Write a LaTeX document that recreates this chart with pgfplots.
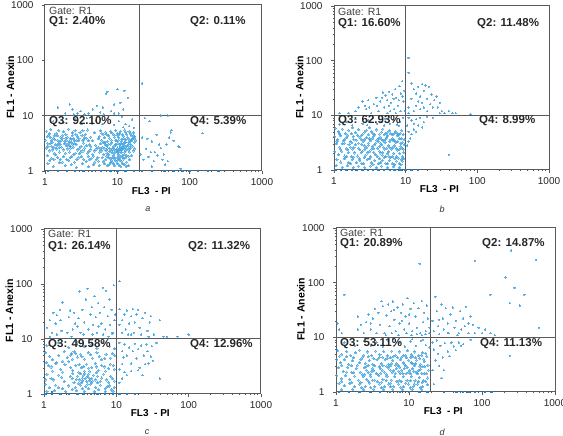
\documentclass[border=0pt]{standalone}
\usepackage{fontspec}
\setmainfont{Liberation Sans}
\usepackage{pgfplots}
\pgfplotsset{compat=1.18}
\definecolor{dot}{HTML}{3FA2E0}
\definecolor{dotd}{HTML}{1F7FC8}
\definecolor{frm}{HTML}{5A5A5A}
\pgfplotsset{
 scale only axis,
 xmin=1,xmax=1000,ymin=1,ymax=1000,
 xtick={1,10,100,1000}, ytick={1,10,100,1000},
 xticklabels={1,10,100,1000}, yticklabels={1,10,100,1000},
 minor xtick={2,3,4,5,6,7,8,9,20,30,40,50,60,70,80,90,200,300,400,500,600,700,800,900},
 minor ytick={2,3,4,5,6,7,8,9,20,30,40,50,60,70,80,90,200,300,400,500,600,700,800,900},
 tick align=outside, tick pos=left, major tick length=3pt, minor tick length=1.5pt,
 tick style={color=frm,line width=.5pt},
 axis line style={color=frm,line width=1pt},
 tick label style={font=\fontsize{10}{10}\selectfont,text=black!85},
 yticklabel style={xshift=-5pt}, xticklabel style={yshift=-1pt},
 xlabel style={font=\bfseries\fontsize{10}{10}\selectfont,at={(axis description cs:0.49,-0.118)},anchor=center},
 ylabel style={font=\bfseries\fontsize{10.5}{10.5}\selectfont,at={(axis description cs:-0.16,0.505)},anchor=center},
 ptsa/.style={only marks,color=dot,mark=*,mark size=1.05pt,opacity=.55,line width=0pt},
 ptsb/.style={only marks,color=dot,mark=*,mark size=0.7pt,opacity=.6,line width=0pt},
 ptsc/.style={only marks,color=dotd,mark=*,mark size=0.7pt,line width=0pt},
 qline/.style={no marks,color=frm,line width=1pt},
}
\newcommand{\gatelab}[3]{\node[anchor=west,inner sep=0pt,font=\fontsize{10.5}{10.5}\selectfont,text=black!75] at (#1pt,436pt-#2pt) {#3};}
\newcommand{\quadlab}[3]{\node[anchor=west,inner sep=0pt,font=\bfseries\fontsize{11.5}{11.5}\selectfont,text=black!85] at (#1pt,436pt-#2pt) {#3};}
\newcommand{\panlab}[3]{\node[inner sep=0pt,font=\itshape\fontsize{9}{9}\selectfont,text=black!80] at (#1pt,436pt-#2pt) {#3};}
\begin{document}
\begin{tikzpicture}
\useasboundingbox (0,0) rectangle (563pt,436pt);
% ---------- a
\begin{loglogaxis}[at={(45pt,265pt)},anchor=south west,width=217pt,height=166pt,xlabel={FL3\ \ - PI},ylabel={FL1\ - Anexin}]
\addplot[ptsa] coordinates {
(1.05,5.2)(1.12,4.4)(1.2,5.6)(1.3,3.9)(1.42,4.8)(1.55,5.4)(1.66,4.1)(1.8,5.1)(1.95,4.5)(2.1,5.7)(2.25,3.8)(2.4,4.9)(2.6,5.3)(2.8,4.2)(3.05,5.0)(3.3,3.6)(3.6,4.6)(3.9,5.5)(4.3,4.1)(4.8,4.9)
(1.02,3.6)(1.1,3.1)(1.18,4.0)(1.26,3.3)(1.37,3.7)(1.48,2.9)(1.6,3.4)(1.72,3.8)(1.85,3.1)(2.0,3.6)(2.15,2.9)(2.3,3.3)(2.5,3.9)(2.7,3.0)(2.9,3.5)(3.15,2.8)(3.4,3.2)(3.75,3.9)(4.1,3.0)(4.5,3.5)(5.0,2.9)(5.5,3.8)
(1.04,2.6)(1.15,2.3)(1.24,2.8)(1.34,2.1)(1.45,2.5)(1.58,2.2)(1.7,2.7)(1.9,2.1)(2.05,2.5)(2.2,2.2)(2.45,2.7)(2.65,2.1)(2.85,2.4)(3.1,2.2)(3.5,2.6)(3.85,2.1)(4.2,2.4)(4.6,2.0)(5.2,2.5)(5.7,2.2)
(1.08,1.9)(1.22,1.7)(1.4,1.95)(1.62,1.6)(1.82,1.8)(2.12,1.55)(2.35,1.85)(2.75,1.6)(3.2,1.8)(3.7,1.5)(4.4,1.7)(4.9,1.45)(5.4,1.75)
(1.1,1.35)(1.3,1.2)(1.6,1.4)(1.9,1.25)(2.3,1.3)(2.7,1.15)(3.3,1.35)(4.0,1.2)(4.7,1.3)(5.6,1.25)
(1.15,4.7)(1.35,4.3)(1.5,3.6)(1.75,4.4)(2.02,4.1)(2.18,3.4)(2.38,4.4)(2.55,3.5)(2.95,3.9)(3.25,4.4)(1.28,2.4)(1.52,3.1)(1.78,2.4)(1.98,2.85)(2.28,2.6)(2.58,3.1)(3.0,2.6)(3.45,3.7)(1.07,4.2)(1.22,3.5)(1.38,3.0)(1.63,3.0)(1.88,3.4)(2.08,3.1)(2.33,3.75)(2.75,3.6)(3.55,4.0)(4.0,3.5)
(1.47,4.3)(1.68,3.6)(1.92,3.9)(1.1,2.8)(1.33,2.7)(2.42,3.05)(1.58,2.65)(2.22,2.75)(1.18,3.15)(2.68,4.6)(3.35,5.3)
(1.16,1.55)(1.33,1.62)(1.5,1.75)(1.72,1.45)(2,1.6)(2.22,1.75)(2.55,1.45)(2.95,1.72)(3.45,1.6)(3.95,1.85)(4.15,1.6)(4.65,1.85)(5.1,1.6)(5.5,1.5)(3.0,2.05)(3.35,2.3)(2.5,2.0)(4.05,2.25)(4.8,2.3)(5.45,2.7)(4.3,2.8)(3.75,2.85)
(5.9,5.3)(6.4,4.6)(6.9,5.0)(7.5,4.3)(8.1,5.2)(8.8,4.6)(9.5,5.4)(10.2,4.4)(11.0,5.2)(11.8,4.5)(12.6,5.5)(13.5,4.6)(14.5,5.2)(15.5,4.4)(16.6,4.9)(17.5,4.2)
(5.6,4.2)(6.1,3.6)(6.6,4.0)(7.2,3.4)(7.8,3.9)(8.4,3.3)(9.1,4.1)(9.8,3.5)(10.5,4.0)(11.3,3.4)(12.1,3.9)(13.0,3.3)(14.0,4.0)(15.0,3.4)(16.0,3.8)(17.2,3.3)(18.0,3.6)
(5.8,3.1)(6.3,2.7)(6.8,3.0)(7.4,2.6)(8.0,3.05)(8.6,2.5)(9.3,2.95)(10.0,2.6)(10.8,3.0)(11.6,2.5)(12.4,2.9)(13.3,2.6)(14.2,3.0)(15.3,2.6)(16.3,2.8)(17.5,2.5)
(6.0,2.3)(6.5,2.0)(7.0,2.35)(7.6,1.95)(8.2,2.3)(8.9,1.9)(9.6,2.25)(10.3,1.95)(11.1,2.3)(11.9,1.9)(12.7,2.2)(13.6,1.9)(14.6,2.2)(15.7,1.9)
(6.2,1.75)(6.9,1.6)(7.5,1.75)(8.3,1.55)(9.0,1.7)(9.8,1.5)(10.6,1.7)(11.4,1.5)(12.3,1.65)(13.4,1.45)(14.8,1.6)
(6.6,1.35)(7.3,1.25)(8.1,1.4)(9.1,1.25)(10.1,1.35)(11.2,1.2)(12.6,1.3)(14.2,1.25)
(9.4,3.6)(10.2,3.2)(11.0,2.8)(9.7,2.4)(10.5,2.2)(11.3,2.15)(12.2,2.55)(8.8,2.75)(9.2,2.1)(8.5,2.15)(7.9,2.55)(10.9,1.85)(12.0,3.1)(13.0,2.35)(11.6,3.7)(10.0,4.7)(12.9,3.65)(14.5,3.65)(7.1,2.85)(8.3,3.6)(6.7,3.3)(9.9,1.75)(7.2,2.1)(8.7,1.75)(15.4,3.0)(16.5,4.3)(13.8,2.85)(11.5,2.4)(10.6,2.45)(12.5,2.0)
(6.05,4.8)(7.15,4.6)(8.4,4.9)(9.15,4.4)(10.7,4.7)(12.2,4.25)(13.1,5.0)(15,4.8)(6.45,3.25)(7.55,3.05)(9.55,3.0)(10.35,3.6)(11.45,3.1)(12.75,3.3)(14.4,3.3)(15.7,3.55)(17,3.9)(5.85,2.55)(6.75,2.5)(7.85,2.25)(9.05,2.45)(10.15,2.2)(10.85,2.6)(11.75,2.75)(12.85,2.7)(14.1,2.4)(14.9,2.7)(16.9,2.3)(6.35,1.5)(7.05,1.85)(7.95,1.7)(8.55,1.45)(9.35,1.55)(10.25,1.6)(11,1.55)(11.85,1.75)(13.1,1.75)(14.3,1.85)(7.7,1.3)(8.9,1.35)(10.6,1.25)(11.8,1.35)(13.3,1.2)
};
\addplot[ptsb] coordinates {
(1.5,14)(2.2,16)(2.4,13)(2.8,11)(1.9,11)(2.5,10.5)(3.1,12)(4,11)(4.6,13)(5.2,15)(6.3,14)(7,25)(7.3,27)(8.2,12)(9,16)(10,30)(11,17)(12,13)(14,21)(12.5,28)(10.5,11)(9,11)(5.8,11.5)(3.5,10.5)(6.5,10.5)
(1.3,8)(1.8,7.5)(2.6,8.5)(3.2,7)(3.8,9)(4.5,7.2)(5.1,8.1)(6.2,7)(7.5,9)(9,6.8)(10.5,8)(11.5,9.5)(13,7)(14.5,6.5)(16,8.5)(12,6.2)(17,6)
(22,38)(24,9)(28,8)(35,4.5)(38,3)(25,2.5)(27,1.8)(30,3.4)(33,2.2)(40,2.6)(42,1.6)(46,1.3)(50,1.5)(55,5)(52,4)(60,3.5)(70,2.8)(72,2.7)(150,4.8)(48,3)(32,1.5)(23,1.6)(26,3.8)(29,2.2)(36,1.9)(44,2)(50,10)(22,4)(21,2)(30,1.2)(75,1.1)(56,5.5)(40,10)
};
\addplot[ptsc] coordinates {(1.1,1)(1.5,1)(2,1)(2.6,1)(3.4,1)(4.5,1)(6,1)(8,1)(10,1)(13,1)(17,1)(22,1)(30,1)(45,1)(60,1)(80,1)(100,1)(130,1)(180,1)(250,1)};
\addplot[qline] coordinates {(20,1)(20,1000)};
\addplot[qline] coordinates {(1,10)(1000,10)};
\end{loglogaxis}
% ---------- b
\begin{loglogaxis}[at={(334pt,266pt)},anchor=south west,width=215pt,height=164pt,xlabel={FL3\ \ - PI},ylabel={FL1\ - Anexin}]
\addplot[ptsa] coordinates {
(1.05,5.8)(1.15,5.0)(1.3,5.6)(1.45,4.6)(1.6,5.3)(1.8,5.9)(2,4.8)(2.2,5.5)(2.5,4.5)(2.8,5.2)(3.1,5.9)(3.5,4.7)(3.9,5.4)(4.3,4.5)(4.8,5.6)(5.3,4.6)(5.9,5.2)(6.5,4.4)(7.2,5.0)(8,4.4)(8.8,5.3)
(1.02,4.1)(1.12,3.6)(1.24,4.2)(1.36,3.4)(1.5,3.9)(1.68,3.3)(1.85,4.1)(2.05,3.5)(2.3,4.0)(2.55,3.3)(2.85,3.9)(3.2,3.4)(3.55,4.1)(3.95,3.5)(4.4,4.0)(4.9,3.4)(5.4,3.9)(6,3.3)(6.6,3.8)(7.3,3.2)(8.1,3.7)(9,3.2)
(1.08,3.0)(1.2,2.6)(1.32,3.0)(1.48,2.5)(1.62,2.9)(1.8,2.4)(2,2.9)(2.2,2.5)(2.45,2.95)(2.7,2.4)(3,2.85)(3.35,2.4)(3.7,2.9)(4.1,2.5)(4.6,2.9)(5.1,2.4)(5.7,2.8)(6.3,2.4)(7,2.8)(7.7,2.3)(8.5,2.7)(9.3,2.4)
(1.03,2.15)(1.16,1.9)(1.28,2.2)(1.42,1.8)(1.58,2.1)(1.75,1.75)(1.95,2.05)(2.15,1.8)(2.4,2.1)(2.65,1.7)(2.95,2.05)(3.25,1.75)(3.6,2.1)(4,1.75)(4.45,2.05)(5,1.7)(5.5,2.0)(6.1,1.7)(6.8,2.0)(7.5,1.75)(8.3,2.0)(9.1,1.75)
(1.1,1.55)(1.25,1.4)(1.4,1.6)(1.6,1.35)(1.8,1.55)(2.05,1.35)(2.3,1.5)(2.6,1.3)(2.9,1.55)(3.3,1.35)(3.7,1.5)(4.2,1.3)(4.7,1.5)(5.3,1.3)(5.9,1.5)(6.6,1.3)(7.4,1.45)(8.2,1.3)(9,1.45)
(1.07,1.2)(1.3,1.12)(1.55,1.2)(1.85,1.1)(2.2,1.18)(2.7,1.1)(3.2,1.18)(3.9,1.1)(4.6,1.18)(5.6,1.1)(6.8,1.15)(8.2,1.1)
(2.2,3.1)(2.7,3.6)(3.0,3.1)(3.4,3.7)(3.8,3.1)(4.2,3.7)(4.5,3.1)(5,4.4)(5.2,3.6)(5.6,4.2)(6.2,4.6)(6.8,3.4)(3.6,2.5)(4.3,2.2)(2.5,2.2)(1.7,2.6)(1.4,3.1)(1.9,3.6)(2.4,4.3)(3.0,4.4)(3.3,5.0)(7.8,4.2)(8.6,3.0)(9.5,3.6)(9.6,2.9)(9.4,2.1)(1.55,4.3)(2.65,2.75)(3.15,2.2)(4.8,2.1)(5.8,2.15)
(1.2,4.6)(1.75,4.6)(2.15,4.3)(2.65,4.9)(3.7,4.4)(4.6,4.9)(5.6,4.9)(6.9,4.6)(7.6,4.7)(8.4,4.7)(9.2,4.5)(1.1,3.3)(1.42,3.6)(1.78,3.15)(2.45,3.55)(3.1,3.7)(4.15,3.3)(4.65,3.6)(5.15,3.2)(6.25,3.55)(7,3.5)(7.7,3.3)(8.8,3.7)(1.25,2.35)(1.55,2.35)(1.9,2.6)(2.3,2.35)(2.85,2.55)(3.4,2.7)(4.35,2.7)(4.9,2.6)(5.45,2.5)(6,2.6)(6.65,2.55)(7.35,2.5)(8.1,2.4)(8.9,2.5)(1.5,1.75)(1.88,1.72)(2.25,1.6)(2.75,1.85)(3.1,1.6)(3.8,1.9)(4.3,1.6)(4.75,1.85)(5.25,1.75)(5.85,1.8)(6.5,1.75)(7.1,1.6)(7.9,1.65)(8.7,1.55)(9.4,1.6)(1.7,1.3)(2.45,1.32)(3.5,1.28)(4.45,1.35)(5.6,1.3)(7,1.25)(8.6,1.25)
};
\addplot[ptsb] coordinates {
(1.2,11)(1.6,11)(2,12)(2.2,14)(2.5,18)(2.8,13)(3,19)(3.3,11)(3.6,16)(3.9,21)(4.2,12)(4.4,18)(4.8,26)(5,14)(5.2,23)(5.6,11)(5.9,27)(6.2,17)(6.5,24)(6.9,13)(7.1,30)(7.4,21)(7.8,15)(8.2,34)(8.5,12)(8.6,25)(8.9,42)(9.3,18)(9.6,28)(9.7,12)(5.5,19)(3.1,14)(4,15)(6.1,12)(7.3,11)(8,19)(4.7,21)(5.8,15)(6.8,20)(9,22)(2.7,15)
(1.5,7.5)(2,8.5)(2.5,7)(3,8)(3.5,9)(4,7)(4.6,7.6)(5.2,8.6)(6,7)(6.8,8.2)(7.6,6.8)(8.4,7.6)(9.2,9)(1.2,6.8)(1.8,6.6)(2.9,6.6)(5,6.5)(8,6.4)
(11,112)(11,60)(12,38)(13,30)(14,25)(15,33)(16,22)(17,37)(18,28)(19,35)(20,20)(21,33)(23,24)(25,19)(28,14)(30,17)(32,12)(35,11)(40,12)(45,11)(50,11)(27,22)(22,16)(18,14)(15,18)(12,20)(11,14)(14,15)(16,13)(20,12)(24,14)(13,12)(11,11)(17,17)(30,11)(80,10.5)
(11,9)(12,8)(13,7)(14,8.5)(15,6.5)(16,9)(18,7.5)(20,9.5)(13,5.5)(11,5)(12,4.5)(14,5)(11.5,3.8)(11,3.3)(10.5,2.8)(40,1.9)(10.5,6.5)(17,6)(24,9)
};
\addplot[ptsc] coordinates {(1.05,1)(1.25,1)(1.5,1)(1.8,1)(2.1,1)(2.5,1)(3,1)(3.5,1)(4.2,1)(5,1)(6,1)(7,1)(8.5,1)(10,1)(12,1)(15,1)};
\addplot[qline] coordinates {(10,1)(10,1000)};
\addplot[qline] coordinates {(1,10)(1000,10)};
\end{loglogaxis}
% ---------- c
\begin{loglogaxis}[at={(44pt,42pt)},anchor=south west,width=217pt,height=165pt,xlabel={FL3\ \ - PI},ylabel={FL1\ - Anexin}]
\addplot[ptsa] coordinates {
(1.1,7.5)(1.6,8.5)(2.2,7)(2.9,8.8)(3.6,7.2)(4.5,8)(5.4,6.8)(6.5,8.6)(8,7.4)(9.5,6.6)
(1.05,5.6)(1.3,4.2)(1.6,5.0)(1.9,5.9)(2.1,4.6)(2.4,5.4)(2.6,5.9)(2.9,4.7)(3.2,5.3)(3.6,4.3)(4.1,5.7)(4.7,4.5)(5.4,5.6)(6.2,4.2)(7.2,5.3)(8.3,4.5)(9.5,5.0)
(1.08,3.7)(1.25,3.1)(1.45,3.6)(1.7,2.8)(1.95,3.4)(2.2,3.9)(2.5,2.7)(2.75,3.3)(3.0,2.5)(3.3,3.0)(3.6,2.6)(3.9,3.5)(4.3,2.6)(4.6,3.0)(5.1,3.6)(5.6,2.7)(6.3,3.3)(7.1,2.6)(8.2,3.5)(9.4,2.8)
(1.1,2.3)(1.35,1.8)(1.6,2.2)(1.9,1.7)(2.3,2.1)(2.6,1.6)(2.9,2.1)(3.1,1.8)(3.3,1.6)(3.5,2.2)(3.7,1.9)(3.9,1.7)(4.1,2.3)(4.3,1.9)(4.5,1.6)(4.8,2.2)(5.1,1.8)(5.5,2.1)(6,1.7)(6.7,2.3)(7.4,1.8)(8.4,2.1)(9.4,1.7)
(1.04,1.5)(1.2,1.3)(1.45,1.45)(1.8,1.25)(2.2,1.4)(2.7,1.3)(3.2,1.45)(3.8,1.35)(4.4,1.5)(5.2,1.3)(6,1.45)(7,1.25)(8,1.4)(9.3,1.3)
(1.1,1.12)(1.4,1.15)(2,1.1)(2.8,1.15)(3.6,1.12)(5,1.1)(7,1.12)(9,1.12)
(3.4,1.95)(3.65,2.35)(4,2.05)(4.25,1.75)(3.2,2.35)(2.8,1.85)(2.5,2.35)(4.6,1.9)(5.3,2.45)(2.35,5.1)(2.75,5.5)(1.5,3.7)
(1.2,4.8)(1.8,3.9)(2.45,4.3)(3.35,4.8)(4.4,5.2)(5.8,4.8)(6.9,4.4)(8.9,5.4)(1.3,2.6)(1.8,2.5)(2.35,3.0)(3.05,3.4)(3.55,3.15)(4.15,2.95)(5.35,3.1)(6.8,3.1)(7.9,2.9)(9.1,3.3)(1.25,1.9)(1.75,2.0)(2.45,1.9)(3.0,1.55)(3.45,1.75)(4.0,1.5)(4.7,1.7)(5.5,1.6)(6.3,1.95)(7.9,1.6)(8.9,1.9)(1.6,1.3)(2.45,1.22)(3.4,1.25)(4.1,1.25)(5.7,1.2)(7.5,1.35)(8.6,1.2)(1.05,1.8)(1.15,3.3)
};
\addplot[ptsb] coordinates {
(1.1,16)(1.2,22)(1.3,13)(1.35,30)(1.45,19)(1.5,27)(1.65,34)(1.7,22)(1.75,14)(1.8,46)(2.1,13)(2.2,25)(2.3,33)(2.5,15)(2.6,30)(2.7,19)(3,24)(3.1,73)(3.2,13)(3.4,34)(3.6,20)(3.8,52)(4,82)(4.1,15)(4.4,28)(4.6,38)(4.8,18)(5,60)(5.2,25)(5.4,13)(5.6,45)(5.9,30)(6.2,19)(6.5,85)(6.8,38)(7,15)(7.2,75)(7.6,26)(8,52)(8.2,18)(8.6,34)(8.9,13)(9.2,95)(9.4,22)(9.6,28)(3.5,12)(2.9,17)(4.7,12)(5.7,17)(6.6,12)(1.2,11)(1.5,12)(2.4,11)(7.8,11)(8.8,12.5)
(11,112)(11,35)(12,22)(13,28)(13.5,15)(14,33)(15,19)(16,26)(17,35)(17.5,13)(18,20)(19,28)(20,34)(21,16)(23,24)(25,30)(27,14)(29,20)(30,26)(33,12)(40,22)(45,11)(50,11)(70,11)(100,12)(12,13)(14.5,12)(22,12)(28,11)(16,12)(11,18)
(11,8.5)(12,6)(13,8)(14,5)(15,7)(16,3.6)(17,6)(18,8.2)(19,4.4)(20,6.5)(21,3)(22,7.6)(24,5)(25,3.5)(26,8)(27,6)(28,3.6)(30,4.8)(31,7.4)(32,4)(36,8.5)(12,3.5)(13,2.5)(11,2.8)(14,2.2)(16,2.6)(11,1.6)(12,1.9)(40,1.9)(23,2.2)(20,2.7)(12.5,4.6)
};
\addplot[ptsc] coordinates {(1.05,1)(1.3,1)(1.7,1)(2.2,1)(2.9,1)(3.5,1)(4.5,1)(5.5,1)(7,1)(9,1)(11,1)(14,1)(18,1)(1.3,1.1)};
\addplot[qline] coordinates {(10,1)(10,1000)};
\addplot[qline] coordinates {(1,10)(1000,10)};
\end{loglogaxis}
% ---------- d
\begin{loglogaxis}[at={(336pt,44pt)},anchor=south west,width=219pt,height=164pt,xlabel={FL3\ \ - PI},ylabel={FL1\ - Anexin}]
\addplot[ptsa] coordinates {
(1.05,5.7)(1.2,4.9)(1.4,5.5)(1.6,4.6)(1.85,5.2)(2.1,5.8)(2.4,4.7)(2.7,5.4)(3.1,4.6)(3.5,5.6)(4,4.8)(4.5,5.5)(5.1,4.6)(5.8,5.6)(6.5,4.7)(7.4,5.4)(8.4,4.6)(9.5,5.7)(10.7,4.8)(12,5.4)(13.6,4.6)(15.3,5.2)(17.5,4.5)
(1.03,4.0)(1.15,3.4)(1.3,3.9)(1.5,3.2)(1.7,3.7)(1.95,3.1)(2.2,3.9)(2.5,3.3)(2.85,3.8)(3.2,3.2)(3.65,3.9)(4.15,3.3)(4.7,3.9)(5.3,3.2)(6,3.8)(6.8,3.3)(7.7,3.9)(8.7,3.2)(9.9,3.8)(11.2,3.3)(12.7,3.8)(14.3,3.2)(16.2,3.6)(18.2,3.1)
(1.08,2.8)(1.25,2.4)(1.45,2.8)(1.65,2.3)(1.9,2.7)(2.15,2.3)(2.45,2.8)(2.75,2.3)(3.15,2.7)(3.55,2.2)(4.05,2.7)(4.6,2.3)(5.2,2.75)(5.9,2.3)(6.7,2.7)(7.6,2.2)(8.6,2.7)(9.8,2.3)(11.1,2.65)(12.6,2.25)(14.2,2.6)(16.1,2.2)(18.4,2.5)
(1.02,2.0)(1.18,1.75)(1.35,2.0)(1.55,1.7)(1.8,1.95)(2.05,1.65)(2.35,1.95)(2.65,1.7)(3,1.95)(3.4,1.65)(3.85,2.0)(4.4,1.7)(5,1.95)(5.7,1.65)(6.4,1.9)(7.3,1.6)(8.3,1.9)(9.4,1.65)(10.7,1.9)(12.1,1.6)(13.8,1.85)(15.6,1.6)(18,1.8)
(1.1,1.45)(1.3,1.3)(1.55,1.45)(1.8,1.25)(2.1,1.4)(2.5,1.25)(2.9,1.45)(3.4,1.25)(3.9,1.4)(4.6,1.25)(5.3,1.4)(6.2,1.25)(7.2,1.4)(8.4,1.25)(9.8,1.4)(11.4,1.25)(13.2,1.4)(15.4,1.25)(18,1.35)
(1.2,1.1)(1.7,1.12)(2.4,1.1)(3.3,1.12)(4.5,1.1)(6,1.12)(8.2,1.1)(11,1.12)(15,1.1)
(2.3,2.1)(2.6,2.5)(2.95,2.1)(3.3,2.45)(3.7,2.1)(4.3,2.5)(2.75,3.1)(3.4,3.0)(4.4,3.0)(5.5,3.0)(6.2,2.5)(7.1,3.0)(8,2.45)(9,3.0)(10.3,2.5)(11.8,3.0)(13.4,2.45)(15.2,2.9)(9.2,4.2)(10.6,4.3)(12.3,4.2)(14,4.1)(16,4.0)(7,4.3)(5.6,4.2)(3.9,4.3)(2.3,4.3)(1.4,4.4)
(1.12,4.5)(1.75,4.2)(2.75,4.4)(3.3,4.1)(4.35,4.3)(5.0,4.15)(6.05,4.5)(7.9,4.3)(8.9,4.7)(11.3,4.5)(15,4.7)(17,5.1)(1.2,3.05)(1.65,3.0)(2.1,3.4)(2.6,2.95)(3.1,2.35)(3.95,2.9)(4.9,2.95)(5.8,3.35)(6.5,3.1)(7.5,2.85)(8.3,3.4)(9.5,2.8)(10.7,3.4)(12.3,3.3)(14,2.95)(16.5,2.9)(1.4,2.3)(1.75,2.25)(2.45,2.05)(4.1,2.2)(4.85,2.1)(5.55,2.5)(6.45,2.15)(7.25,2.4)(8.25,2.2)(9.1,2.15)(10.5,2.15)(11.7,2.4)(13.2,2.15)(15,2.2)(17.2,2.15)(1.2,1.55)(1.65,1.5)(2.2,1.5)(2.8,1.55)(3.15,1.65)(3.7,1.55)(4.2,1.5)(4.85,1.6)(5.6,1.45)(6.8,1.55)(7.8,1.55)(9,1.45)(10.5,1.6)(11.9,1.4)(13.5,1.55)(15.1,1.5)(17,1.55)(2.25,1.2)(3.0,1.2)(4.2,1.2)(5.6,1.25)(7.7,1.22)(10.4,1.2)(14.2,1.2)
};
\addplot[ptsb] coordinates {
(1.3,60)(14,220)(1.05,18)(1.1,14)(1.2,12)(2,24)(2,14)(2.2,17)(2.4,12)(2.6,19)(2.8,26)(3,14)(3.2,22)(3.4,33)(3.6,12)(3.8,28)(4,17)(4.2,46)(4.4,37)(4.6,12)(4.9,25)(5.2,40)(5.4,16)(5.7,30)(6,45)(6.3,21)(6.6,13)(7,35)(7.4,18)(7.8,28)(8.2,40)(8.6,14)(9,24)(9.5,52)(10,18)(10.5,33)(11,13)(11.6,42)(12.2,24)(12.8,15)(13.5,34)(14.2,12)(15,46)(15.6,19)(16.2,28)(17,13)(17.6,38)(18.2,22)(19,12)(19.2,15)(4.8,11)(5.8,12)(7.2,11)(9.2,12)(10.8,11)(12.8,11.5)(15,11)(16.8,11.5)(3,18)(6.2,32)(8,20)(10,26)
(1.3,8)(1.8,7)(2.4,8.5)(3,7)(3.6,8)(4.4,6.8)(5.2,8.6)(6.2,7)(7.4,8)(8.8,6.8)(10.5,8.4)(12.4,7)(14.5,8.6)(17,7.2)(19,6.5)(11,9.3)(15.5,9)(6,9.3)
(23,55)(21,20)(22,13)(24,30)(25,16)(26,11.5)(28,40)(29,22)(30,14)(32,34)(34,18)(35,12)(37,26)(40,35)(42,15)(44,20)(46,11)(50,30)(52,14)(55,22)(58,16)(60,36)(65,12)(70,24)(75,17)(80,12)(90,15)(100,12)(110,14)(130,12)(150,11)(26,21)(34,12)(48,12)(65,18)
(250,390)(80,250)(550,260)(210,125)(280,80)(130,60)(380,60)(240,42)(330,38)(600,15)
(21,8)(22,6)(24,8.8)(25,5)(27,7)(29,4.3)(31,7.8)(34,5.5)(36,4.5)(38,8)(41,6.8)(44,5.8)(48,8)(52,7)(55,7.5)(23,3.8)(26,3)(21,2.5)(28,1.8)(240,4.6)(70,9)(30,2.5)(22,1.4)
};
\addplot[ptsc] coordinates {(1.1,1)(1.5,1)(2.1,1)(2.9,1)(4,1)(5.5,1)(7.5,1)(10,1)(14,1)(18,1)(30,1)(45,1)(55,1)(65,1)(80,1)(110,1)(135,1)};
\addplot[qline] coordinates {(20,1)(20,1000)};
\addplot[qline] coordinates {(1,10)(1000,10)};
\end{loglogaxis}
% ---------- labels
\gatelab{49}{11}{Gate: R1}\quadlab{49}{22}{Q1: 2.40\%}\quadlab{190}{22}{Q2: 0.11\%}\quadlab{49}{122}{Q3: 92.10\%}\quadlab{190}{122}{Q4: 5.39\%}\panlab{148}{209}{a}
\gatelab{338}{12}{Gate: R1}\quadlab{338}{24}{Q1: 16.60\%}\quadlab{477}{24}{Q2: 11.48\%}\quadlab{338}{121}{Q3: 62.93\%}\quadlab{479}{121}{Q4: 8.99\%}\panlab{442}{209}{b}
\gatelab{48}{234}{Gate: R1}\quadlab{48}{247}{Q1: 26.14\%}\quadlab{188}{247}{Q2: 11.32\%}\quadlab{48}{345}{Q3: 49.58\%}\quadlab{190}{345}{Q4: 12.96\%}\panlab{147}{432}{c}
\gatelab{340}{233}{Gate: R1}\quadlab{340}{244}{Q1: 20.89\%}\quadlab{482}{244}{Q2: 14.87\%}\quadlab{340}{344}{Q3: 53.11\%}\quadlab{480}{344}{Q4: 11.13\%}\panlab{442}{432}{d}
\end{tikzpicture}
\end{document}
